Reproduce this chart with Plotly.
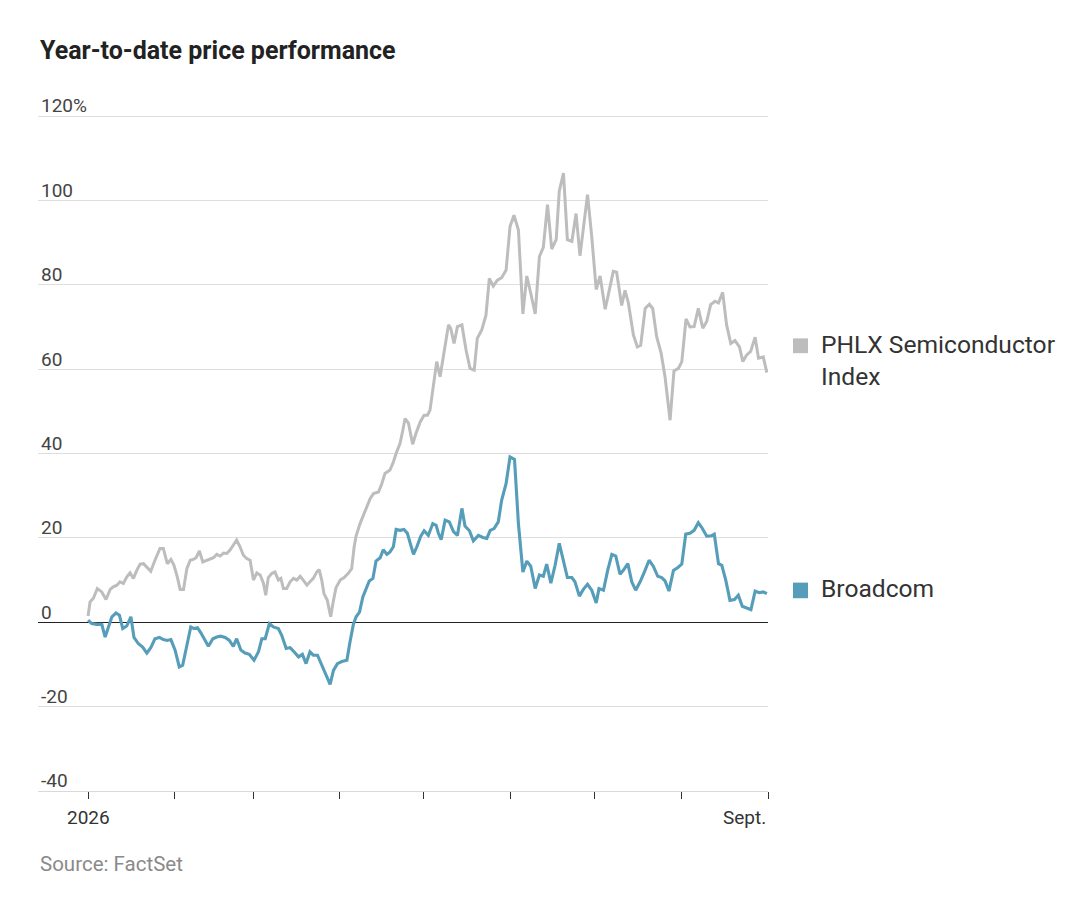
import pandas as pd
import plotly.graph_objects as go

# ---- data (days since 2026-01-01, % change YTD) ----
phlx_days = [0, 0.7, 1.9, 3.3, 4.9, 6.4, 7.9, 9.0, 10.3, 11.4,
             12.6, 13.8, 15.0, 16.2, 17.4, 18.6, 19.8, 21.0, 22.4, 23.9,
             25.7, 26.9, 28.3, 29.6, 30.7, 31.9, 32.9, 34.1, 35.3, 36.5,
             37.6, 38.6, 39.8, 41.0, 42.4, 43.6, 44.8, 46.0, 47.2, 48.4,
             49.6, 50.8, 51.9, 53.1, 54.3, 55.5, 56.7, 57.9, 59.1, 60.3,
             61.5, 62.7, 63.5, 64.4, 65.7, 66.8, 68.0, 68.9, 69.8, 71.0,
             72.2, 73.4, 74.6, 75.8, 76.9, 78.2, 79.3, 80.5, 81.7, 82.6,
             83.5, 84.3, 85.5, 86.7, 87.7, 88.6, 90.1, 91.5, 93.0, 94.2,
             95.1, 95.8, 97.2, 99.0, 100.8, 102.0, 103.8, 105.0, 106.1, 107.9,
             109.1, 110.3, 111.5, 112.5, 113.3, 114.5, 116.0, 117.2, 118.7, 120.1,
             121.3, 122.2, 123.4, 124.6, 125.8, 127.2, 128.8, 129.6, 130.8, 132.0,
             133.6, 135.1, 136.5, 138.0, 139.1, 140.7, 142.2, 143.4, 144.8, 146.3,
             147.8, 149.4, 150.8, 152.2, 153.8, 155.4, 156.8, 158.2, 159.8, 161.3,
             162.7, 164.2, 165.7, 167.3, 168.4, 169.9, 171.3, 172.9, 174.4, 175.8,
             177.0, 178.5, 180.0, 181.6, 183.0, 184.8, 186.3, 187.7, 188.9, 190.7,
             191.9, 193.1, 194.9, 196.3, 197.5, 199.1, 200.6, 201.8, 203.2, 204.8,
             206.2, 208.0, 209.4, 211.0, 212.2, 213.7, 215.1, 216.6, 218.1, 219.7,
             221.1, 222.5, 224.1, 225.3, 226.8, 228.2, 229.7, 231.2, 232.8, 234.0,
             235.4, 236.8, 238.4, 239.6, 241.3, 242.6]
phlx_values = [1.5, 4.8, 5.7, 8.0, 7.2, 5.4, 7.8, 8.4, 8.8, 9.6,
               9.2, 10.7, 11.7, 10.4, 12.3, 13.8, 13.9, 13.1, 12.1, 14.7,
               17.5, 17.5, 13.9, 14.9, 13.5, 10.7, 7.8, 7.8, 12.7, 14.7,
               14.9, 15.3, 16.9, 14.3, 14.7, 14.9, 15.3, 16.1, 15.7, 16.4,
               16.3, 17.2, 18.3, 19.5, 17.9, 15.9, 15.1, 14.7, 10.0, 11.7,
               11.2, 9.2, 6.4, 10.6, 11.6, 11.9, 10.0, 10.4, 8.0, 8.0,
               9.6, 10.4, 10.0, 10.9, 10.0, 8.8, 9.6, 10.4, 11.9, 12.5,
               10.0, 6.8, 5.2, 1.3, 5.2, 8.2, 10.0, 10.6, 11.6, 12.7,
               17.9, 20.5, 23.4, 26.4, 29.3, 30.5, 30.9, 32.9, 35.3, 36.1,
               38.0, 40.4, 42.4, 45.6, 48.3, 47.2, 42.2, 44.8, 47.5, 49.1,
               49.1, 50.3, 55.8, 61.8, 58.2, 64.1, 70.5, 69.7, 66.1, 70.1,
               70.5, 64.5, 60.2, 59.8, 67.3, 69.3, 72.8, 81.5, 79.7, 81.1,
               81.7, 83.5, 93.8, 96.5, 93.0, 73.1, 82.1, 78.0, 73.1, 86.7,
               88.9, 99.0, 88.5, 90.7, 102.2, 106.5, 90.7, 90.3, 96.9, 86.9,
               93.8, 101.4, 91.5, 78.9, 82.1, 74.2, 78.8, 83.2, 83.0, 75.1,
               78.7, 75.7, 68.1, 65.3, 65.7, 74.4, 75.4, 74.4, 67.7, 63.8,
               58.2, 47.9, 59.6, 60.2, 61.8, 71.9, 70.0, 70.1, 74.4, 69.7,
               71.3, 75.3, 76.1, 75.7, 78.2, 70.5, 66.1, 66.8, 65.3, 61.8,
               63.4, 64.2, 67.6, 62.6, 62.9, 59.2]

avgo_days = [0, 1.3, 3.1, 4.9, 6.1, 7.3, 8.5, 10.0, 11.2, 12.4,
             13.8, 15.3, 16.4, 18.0, 19.5, 21.0, 22.4, 23.9, 25.5, 26.9,
             28.3, 29.6, 31.1, 32.6, 33.8, 35.3, 36.7, 37.9, 39.1, 40.3,
             41.5, 43.0, 44.6, 46.0, 47.4, 49.0, 50.5, 51.9, 53.1, 54.6,
             56.1, 57.6, 59.3, 60.9, 62.1, 63.3, 64.8, 66.2, 68.0, 69.2,
             70.8, 72.2, 73.6, 75.2, 76.6, 77.9, 79.3, 80.5, 82.0, 83.5,
             85.1, 86.5, 87.7, 89.1, 90.7, 92.5, 93.6, 94.8, 95.8, 97.0,
             98.2, 99.4, 100.5, 101.8, 102.9, 104.4, 105.5, 106.8, 107.9, 109.1,
             110.1, 111.5, 112.9, 114.1, 115.1, 116.3, 117.5, 118.9, 120.1, 121.6,
             123.2, 124.4, 125.2, 126.2, 127.6, 129.1, 130.6, 132.0, 133.6, 134.7,
             136.3, 137.7, 139.5, 141.1, 142.5, 143.7, 145.1, 146.6, 147.8, 149.4,
             150.8, 152.4, 153.8, 155.4, 156.8, 158.2, 159.8, 161.3, 162.7, 163.9,
             165.4, 166.9, 168.4, 169.9, 171.3, 172.9, 174.0, 175.6, 177.0, 178.5,
             180.0, 181.6, 182.6, 184.2, 185.7, 187.2, 188.6, 190.1, 191.3, 192.9,
             194.3, 195.7, 197.3, 198.8, 200.5, 202.0, 203.6, 205.0, 206.2, 207.6,
             209.2, 210.8, 212.2, 213.6, 215.1, 216.6, 218.1, 219.5, 221.1, 222.7,
             223.8, 225.3, 226.5, 227.9, 229.4, 231.0, 232.4, 233.8, 235.4, 236.9,
             238.4, 239.8, 241.3, 242.6]
avgo_values = [0.5, -0.3, -0.5, -0.5, -3.5, -1.1, 1.3, 2.2, 1.7, -1.5,
               -0.9, 1.3, -3.6, -5.1, -5.9, -7.3, -6.0, -3.9, -3.6, -4.1,
               -4.3, -4.1, -6.6, -10.6, -10.2, -5.5, -1.1, -1.5, -1.3, -2.5,
               -3.9, -5.7, -3.9, -3.5, -3.3, -3.6, -4.3, -5.7, -3.9, -6.6,
               -7.3, -7.6, -9.0, -7.0, -3.9, -3.9, -0.3, -1.1, -1.5, -3.1,
               -6.2, -6.0, -7.0, -8.2, -7.6, -9.8, -7.0, -7.8, -7.8, -10.2,
               -12.6, -14.7, -11.4, -9.8, -9.3, -9.0, -4.7, -0.5, 1.3, 2.4,
               6.0, 8.0, 9.8, 10.4, 14.5, 15.3, 17.2, 16.1, 16.7, 17.9,
               22.0, 21.8, 22.0, 21.1, 18.7, 16.1, 17.9, 20.4, 21.7, 20.6,
               23.4, 23.0, 21.1, 19.6, 24.2, 23.8, 21.5, 20.6, 27.0, 22.8,
               21.7, 19.3, 20.6, 20.1, 19.9, 21.8, 22.2, 23.8, 28.9, 32.9,
               39.2, 38.6, 23.4, 11.9, 14.5, 13.3, 8.0, 11.2, 10.9, 13.8,
               9.3, 13.5, 18.7, 14.7, 10.6, 10.6, 9.6, 6.2, 7.8, 9.0,
               7.6, 4.6, 8.0, 7.6, 12.3, 16.1, 15.7, 11.4, 12.3, 13.9,
               9.6, 7.6, 9.6, 11.9, 14.7, 13.3, 10.9, 10.6, 9.8, 7.4,
               12.3, 13.0, 13.8, 20.9, 21.1, 21.8, 23.6, 22.3, 20.4, 20.5,
               20.9, 13.9, 13.5, 10.0, 5.2, 5.4, 6.4, 3.8, 3.3, 3.0,
               7.4, 7.0, 7.2, 6.8]

series_names = ["PHLX Semiconductor<br>Index", "Broadcom"]
month_ticks = ["2026-01-01", "2026-02-01", "2026-03-01", "2026-04-01", "2026-05-01",
               "2026-06-01", "2026-07-01", "2026-08-01", "2026-09-01"]
y_tickvals = [-40, -20, 0, 20, 40, 60, 80, 100, 120]
y_ticktext = ["-40", "-20", "0", "20", "40", "60", "80", "100", "120%"]
x_label_first = "2026"
x_label_last = "Sept."
title_text = "Year-to-date price performance"
source_text = "Source: FactSet"

assert len(phlx_days) == len(phlx_values)
assert len(avgo_days) == len(avgo_values)

base = pd.Timestamp("2026-01-01")


def to_dates(days):
    return [base + pd.Timedelta(days=d) for d in days]


GRAY = "#bdbdbd"
BLUE = "#569db9"
FONT = "Roboto, Noto Sans, sans-serif"

fig = go.Figure()
fig.add_trace(go.Scatter(x=to_dates(phlx_days), y=phlx_values, mode="lines",
                         line=dict(color=GRAY, width=3), name="PHLX Semiconductor Index",
                         hoverinfo="skip"))
fig.add_trace(go.Scatter(x=to_dates(avgo_days), y=avgo_values, mode="lines",
                         line=dict(color=BLUE, width=3.1), name="Broadcom",
                         hoverinfo="skip"))

x_start = base - pd.Timedelta(days=17.9)
x_end = pd.Timestamp(month_ticks[-1])

# plot area: x 38..768 px, y 114..791 px (y range -40..120.5)
PL, PR, PT, PB = 38, 768, 114, 791
PW, PH = PR - PL, PB - PT

fig.update_layout(
    width=1080, height=906, autosize=False,
    margin=dict(l=PL, r=1080 - PR, t=PT, b=906 - PB),
    paper_bgcolor="white", plot_bgcolor="white",
    showlegend=False,
    hovermode=False,
    xaxis=dict(type="date", range=[x_start, x_end], showgrid=False, zeroline=False,
               ticks="outside", ticklen=7, tickwidth=1, tickcolor="#333333",
               tickvals=month_ticks, showticklabels=False,
               showline=True, linecolor="#d9d9d9", linewidth=1),
    yaxis=dict(range=[-40, 120.5], tickvals=y_tickvals, ticktext=y_ticktext,
               ticklabelposition="inside top", ticklabeloverflow="allow", ticks="",
               ticklabelshift=3,
               showgrid=True, gridcolor="#dedede", gridwidth=1,
               zeroline=True, zerolinecolor="#222222", zerolinewidth=1.3,
               tickfont=dict(family=FONT, size=19, color="#444444"),
               showline=False),
)


def py(pix):
    return (PB - pix) / PH


def px(pix):
    return (pix - PL) / PW


annotations = [
    dict(text="<b>" + title_text + "</b>", xref="paper", yref="paper", x=0, y=py(50),
         xanchor="left", yanchor="middle", showarrow=False,
         font=dict(family=FONT, size=25, color="#222222")),
    dict(text=source_text, xref="paper", yref="paper", x=0, y=py(864),
         xanchor="left", yanchor="middle", showarrow=False,
         font=dict(family=FONT, size=20.5, color="#8a8a8a")),
    dict(text=x_label_first, xref="x", yref="paper", x=base, y=py(817),
         xanchor="center", yanchor="middle", showarrow=False,
         font=dict(family=FONT, size=19, color="#333333")),
    dict(text=x_label_last, xref="x", yref="paper", x=x_end, y=py(817),
         xanchor="right", yanchor="middle", showarrow=False,
         font=dict(family=FONT, size=19, color="#333333")),
    dict(text=series_names[0], xref="paper", yref="y", x=px(819), y=62.0,
         xanchor="left", yanchor="middle", align="left", showarrow=False,
         font=dict(family=FONT, size=24.6, color="#333333")),
    dict(text=series_names[1], xref="paper", yref="y", x=px(819), y=8.0,
         xanchor="left", yanchor="middle", align="left", showarrow=False,
         font=dict(family=FONT, size=24.6, color="#333333")),
]
fig.update_layout(annotations=annotations)

shapes = [
    dict(type="rect", xref="paper", yref="y", x0=px(793), x1=px(808),
         y0=63.8, y1=67.3, fillcolor=GRAY, line=dict(width=0)),
    dict(type="rect", xref="paper", yref="y", x0=px(793), x1=px(808),
         y0=5.7, y1=9.4, fillcolor=BLUE, line=dict(width=0)),
]
fig.update_layout(shapes=shapes)

fig.write_html("out.html", config={"displayModeBar": False},
               post_script="document.body.style.margin='0';")
